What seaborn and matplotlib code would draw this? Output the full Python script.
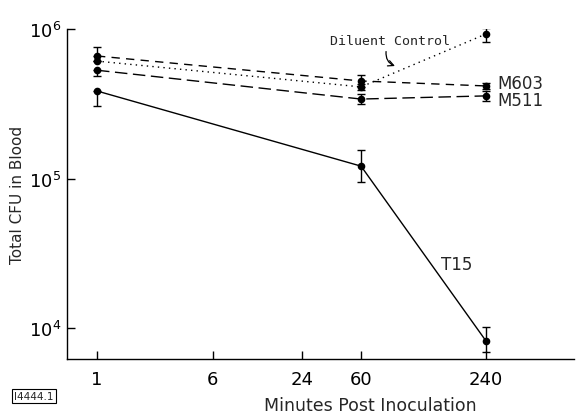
import matplotlib
matplotlib.use("Agg")
import matplotlib.pyplot as plt
import numpy as np
import pandas as pd
import seaborn as sns

# Values (CFU in blood)
minutes = [1, 60, 240]
groups = ["T15", "M511", "M603", "Diluent Control"]

t15_cfu = [3.85e5, 1.21e5, 8.2e3]
t15_lo = [3.05e5, 9.5e4, 6.9e3]
t15_hi = [3.85e5, 1.55e5, 1.02e4]

m511_cfu = [5.3e5, 3.4e5, 3.57e5]
m511_lo = [4.85e5, 3.15e5, 3.3e5]
m511_hi = [5.3e5, 3.67e5, 3.85e5]

m603_cfu = [6.6e5, 4.49e5, 4.16e5]
m603_lo = [6.6e5, 4.3e5, 4.0e5]
m603_hi = [7.6e5, 4.92e5, 4.35e5]

dil_cfu = [6.1e5, 4.1e5, 9.26e5]
dil_lo = [6.1e5, 3.9e5, 8.2e5]
dil_hi = [6.1e5, 4.1e5, 1.02e6]

x_ticks = [1, 6, 24, 60, 240]

series = {
    "T15": (t15_cfu, t15_lo, t15_hi),
    "M511": (m511_cfu, m511_lo, m511_hi),
    "M603": (m603_cfu, m603_lo, m603_hi),
    "Diluent Control": (dil_cfu, dil_lo, dil_hi),
}

rows = []
for g, (vals, lo, hi) in series.items():
    for m, v, l, h in zip(minutes, vals, lo, hi):
        rows.append({"group": g, "minutes": m, "cfu": v, "lo": l, "hi": h})
df = pd.DataFrame(rows)

sns.set_style("ticks")
plt.rcParams["font.family"] = ["DejaVu Sans"]

# hand-drawn time axis: log spacing, with the last interval stretched
L60 = np.log10(60)
K = 1.397


def fwd(x):
    l = np.log10(np.clip(x, 1e-9, None))
    return np.where(l <= L60, l, L60 + (l - L60) * K)


def inv(u):
    u = np.asarray(u, dtype=float)
    l = np.where(u <= L60, u, L60 + (u - L60) / K)
    return 10 ** l


fig = plt.figure(figsize=(5.76, 4.14), dpi=100)
ax = fig.add_axes([67 / 576, 1 - 360 / 414, (574 - 67) / 576, 330 / 414])

ax.set_xscale("function", functions=(fwd, inv))
ax.set_yscale("log")

sns.lineplot(
    data=df, x="minutes", y="cfu", hue="group", style="group",
    palette={g: "black" for g in groups},
    dashes={"T15": "", "M511": (9, 4), "M603": (6, 4.5), "Diluent Control": (1, 3)},
    markers={g: "o" for g in groups},
    markersize=5.5, markeredgewidth=0, linewidth=1,
    legend=False, ax=ax,
)

for g in groups:
    sub = df[df["group"] == g]
    ax.errorbar(sub["minutes"], sub["cfu"],
                yerr=[sub["cfu"] - sub["lo"], sub["hi"] - sub["cfu"]],
                fmt="none", ecolor="black", elinewidth=1, capsize=2.6, capthick=1)

ax.set_ylim(10 ** 3.793, 1e6)
ax.set_xlim(float(inv(-0.202)), float(inv(3.212)))
ax.set_yticks([1e4, 1e5, 1e6])
ax.yaxis.set_minor_locator(matplotlib.ticker.NullLocator())
ax.xaxis.set_minor_locator(matplotlib.ticker.NullLocator())
ax.set_xticks(x_ticks)
ax.set_xticklabels([str(t) for t in x_ticks])
ax.tick_params(direction="in", length=6, width=1, labelsize=13, colors="black", pad=8)
ax.tick_params(axis="y", pad=4)

for s in ["top", "right"]:
    ax.spines[s].set_visible(False)
for s in ["left", "bottom"]:
    ax.spines[s].set_linewidth(1)
    ax.spines[s].set_color("black")

ax.set_xlabel("Minutes Post Inoculation", fontsize=12.5)
ax.xaxis.set_label_coords(0.598, -0.112)
ax.set_ylabel("Total CFU in Blood", fontsize=11, va="center")
ax.yaxis.set_label_coords(-0.097, 0.5)

ax.text(0.637, 0.964, "Diluent Control", transform=ax.transAxes,
        ha="center", va="center", fontsize=9.5, family="DejaVu Sans Mono")
ax.annotate("", xy=(0.652, 0.885), xytext=(0.630, 0.940),
            xycoords="axes fraction", textcoords="axes fraction",
            arrowprops=dict(arrowstyle="->", color="black", lw=0.9,
                            connectionstyle="arc3,rad=0.45"))
ax.text(0.848, 0.836, "M603", transform=ax.transAxes, ha="left", va="center", fontsize=12)
ax.text(0.848, 0.785, "M511", transform=ax.transAxes, ha="left", va="center", fontsize=12)
ax.text(0.738, 0.288, "T15", transform=ax.transAxes, ha="left", va="center", fontsize=12)

fig.text(34 / 576, 1 - 397 / 414, "I4444.1", ha="center", va="center", fontsize=7.5,
         bbox=dict(boxstyle="square,pad=0.2", fc="white", ec="black", lw=0.8))

fig.savefig("out.png", dpi=100)
